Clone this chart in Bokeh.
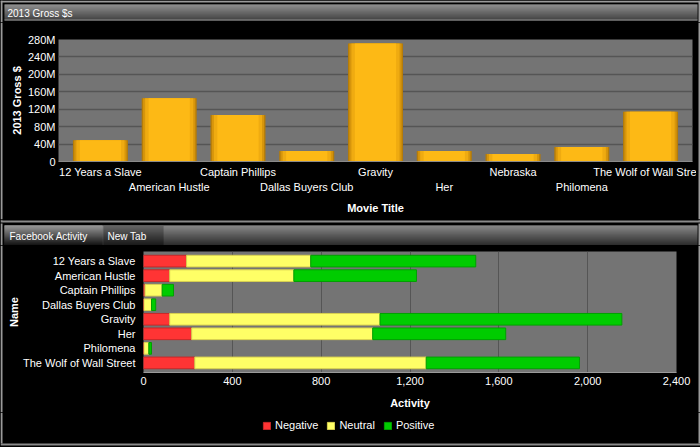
from bokeh.plotting import figure
from bokeh.models import (Range1d, FactorRange, FixedTicker, NumeralTickFormatter, LinearAxis,
                          ColumnDataSource, Legend, LegendItem)
from bokeh.core.properties import value
from bokeh.layouts import column, row
from bokeh.embed import file_html
from bokeh.resources import INLINE

# ---------------- data ----------------
movies = ["12 Years a Slave", "American Hustle", "Captain Phillips", "Dallas Buyers Club",
          "Gravity", "Her", "Nebraska", "Philomena", "The Wolf of Wall Street"]
movie_tick_labels = ["12 Years a Slave", "American Hustle", "Captain Phillips", "Dallas Buyers Club",
                     "Gravity", "Her", "Nebraska", "Philomena", "The Wolf of Wall Stre"]
gross_m = [49, 145, 107, 24, 271, 24, 17, 33, 114]          # millions of $
gross_ticks = [0, 40, 80, 120, 160, 200, 240, 280]
gross_tick_labels = ["0", "40M", "80M", "120M", "160M", "200M", "240M", "280M"]

names = ["12 Years a Slave", "American Hustle", "Captain Phillips", "Dallas Buyers Club",
         "Gravity", "Her", "Philomena", "The Wolf of Wall Street"]
negative = [194, 118, 7, 2, 118, 217, 2, 231]
neutral = [559, 559, 77, 34, 947, 815, 22, 1042]
positive = [743, 552, 51, 19, 1089, 599, 12, 690]
activity_ticks = [0, 400, 800, 1200, 1600, 2000, 2400]
series = ["Negative", "Neutral", "Positive"]
series_fill = ["#ff3434", "#ffff66", "#00cc00"]
series_line = ["#c82828", "#d8d050", "#00a000"]

FONT = "Liberation Sans"
W = 700
BORDER = "#9a9a9a"


def hexmix(c1, c2, t):
    a = [int(c1[i:i + 2], 16) for i in (1, 3, 5)]
    b = [int(c2[i:i + 2], 16) for i in (1, 3, 5)]
    return "#%02x%02x%02x" % tuple(int(round(a[k] + (b[k] - a[k]) * t)) for k in range(3))


def deco_figure(h, w=W):
    p = figure(width=w, height=h, output_backend="svg", toolbar_location=None,
               x_range=Range1d(0, w), y_range=Range1d(h, 0),
               x_axis_type=None, y_axis_type=None, frame_align=False,
               min_border=0, min_border_left=0, min_border_right=0,
               min_border_top=0, min_border_bottom=0)
    p.background_fill_color = "#000000"
    p.border_fill_color = "#000000"
    p.outline_line_color = None
    p.grid.visible = False
    return p


class Boxes:
    def __init__(self):
        self.l, self.r, self.t, self.b, self.c = [], [], [], [], []

    def add(self, l, r, t, b, c):
        self.l.append(l); self.r.append(r); self.t.append(t); self.b.append(b); self.c.append(c)

    def grad(self, l, r, t, b, c_top, c_bot):
        n = int(round(b - t))
        for i in range(n):
            self.add(l, r, t + i, t + i + 1.05, hexmix(c_top, c_bot, i / max(n - 1, 1)))

    def draw(self, p):
        src = ColumnDataSource(dict(l=self.l, r=self.r, t=self.t, b=self.b, c=self.c))
        p.quad(left="l", right="r", top="t", bottom="b", fill_color="c", line_color=None, source=src)


def side_strip(h, left_side):
    p = deco_figure(h, w=4)
    b = Boxes()
    if left_side:
        b.add(0, 2, 0, h, BORDER)
    else:
        b.add(2, 4, 0, h, BORDER)
    b.draw(p)
    return p


def deco_text(p, x, y, s):
    p.text(x=[x], y=[y], text=[s], text_font=value(FONT), text_font_size="10px",
           text_color="#ffffff", text_baseline="middle", text_align="left")


def style_axis(ax):
    ax.major_label_text_color = "#ffffff"
    ax.major_label_text_font = FONT
    ax.major_label_text_font_size = "11px"
    ax.axis_label_text_color = "#ffffff"
    ax.axis_label_text_font = FONT
    ax.axis_label_text_font_size = "11px"
    ax.axis_label_text_font_style = "bold"
    ax.major_tick_line_color = None
    ax.minor_tick_line_color = None
    ax.major_tick_out = 0
    ax.major_tick_in = 0


# ---------------- header A (y 0-22) ----------------
hA = 22
pA = deco_figure(hA)
bA = Boxes()
bA.add(0, W, 0, 2, BORDER)
bA.add(0, 2, 0, hA, BORDER)
bA.add(W - 2, W, 0, hA, BORDER)
bA.grad(4, 697, 4, 20, "#bcbcbc", "#5a5a5a")
bA.add(4, 697, 19, 20, "#8e8e8e")
bA.draw(pA)
deco_text(pA, 7, 12.5, "2013 Gross $s")

# ---------------- chart B (y 22-219) ----------------
hB = 197
xidx = list(range(len(movies)))
pB = figure(width=W - 8, height=hB, output_backend="svg", toolbar_location=None,
            x_range=Range1d(-0.61, 8.61), y_range=Range1d(0, 280), frame_align=False,
            min_border_left=54, min_border_right=4, min_border_top=17, min_border_bottom=58)
pB.background_fill_color = "#747474"
pB.border_fill_color = "#000000"
pB.outline_line_color = None
pB.xaxis.visible = False

srcB = ColumnDataSource(dict(x=xidx, gross=gross_m))
for wdt, col in [(0.80, "#b57c09"), (0.76, "#d6950c"), (0.70, "#efab11"), (0.60, "#fdb915")]:
    pB.vbar(x="x", top="gross", width=wdt, source=srcB, fill_color=col, line_color=None)

pB.xgrid.grid_line_color = None
pB.ygrid.grid_line_color = "#555555"
pB.ygrid.grid_line_width = 1.5
pB.yaxis.ticker = FixedTicker(ticks=gross_ticks)
pB.yaxis.major_label_overrides = {t: s for t, s in zip(gross_ticks, gross_tick_labels)}
pB.yaxis.axis_label = "2013 Gross $"
style_axis(pB.yaxis[0])
pB.yaxis.axis_line_color = None
pB.yaxis.major_label_standoff = 3
pB.yaxis.axis_label_standoff = 2

even = [i for i in xidx if i % 2 == 0]
odd = [i for i in xidx if i % 2 == 1]
ax1 = LinearAxis(ticker=FixedTicker(ticks=even),
                 major_label_overrides={i: movie_tick_labels[i] for i in even})
ax2 = LinearAxis(ticker=FixedTicker(ticks=odd),
                 major_label_overrides={i: movie_tick_labels[i] for i in odd},
                 axis_label="Movie Title")
for ax in (ax1, ax2):
    style_axis(ax)
ax1.axis_line_color = "#8a8a8a"
ax2.axis_line_color = None
ax1.major_label_standoff = 4
ax2.major_label_standoff = 0
ax2.axis_label_standoff = 6
pB.add_layout(ax1, "below")
pB.add_layout(ax2, "below")

# ---------------- header C (y 219-245) ----------------
hC = 26
pC = deco_figure(hC)
bC = Boxes()
bC.add(0, W, 1, 3, "#8a8a8a")
bC.add(0, 2, 0, 1, BORDER)
bC.add(W - 2, W, 0, 1, BORDER)
bC.add(0, 2, 4, hC, BORDER)
bC.add(W - 2, W, 4, hC, BORDER)
bC.grad(4, 697, 6, 26, "#b4b4b4", "#3c3c3c")
bC.grad(4, 102, 6, 26, "#9c9c9c", "#0c0c0c")
bC.grad(103, 163, 6, 26, "#5a5a5a", "#141414")
bC.draw(pC)
deco_text(pC, 9, 16.5, "Facebook Activity")
deco_text(pC, 107, 16.5, "New Tab")

# ---------------- chart D (y 245-412) ----------------
hD = 167
rev = list(reversed(names))
pD = figure(width=W - 8, height=hD, output_backend="svg", toolbar_location=None,
            y_range=FactorRange(factors=rev, range_padding=0.16, range_padding_units="absolute"),
            x_range=Range1d(0, 2400), frame_align=False,
            min_border_left=139, min_border_right=20, min_border_top=6, min_border_bottom=40)
pD.background_fill_color = "#747474"
pD.border_fill_color = "#000000"
pD.outline_line_color = None

srcD = ColumnDataSource(dict(name=names, Negative=negative, Neutral=neutral, Positive=positive))
pD.hbar_stack(series, y="name", height=0.8, source=srcD,
              fill_color=series_fill, line_color=series_line, line_width=1)

pD.ygrid.grid_line_color = None
pD.xgrid.grid_line_color = "#555555"
pD.xgrid.grid_line_width = 1
pD.xaxis.ticker = FixedTicker(ticks=activity_ticks)
pD.xaxis.formatter = NumeralTickFormatter(format="0,0")
pD.xaxis.axis_label = "Activity"
pD.yaxis.axis_label = "Name"
for ax in (pD.xaxis[0], pD.yaxis[0]):
    style_axis(ax)
pD.yaxis.axis_line_color = None
pD.xaxis.axis_line_color = "#9a9a9a"
pD.yaxis.major_label_standoff = 8
pD.yaxis.axis_label_standoff = 0
pD.xaxis.major_label_standoff = 4
pD.xaxis.axis_label_standoff = 9

# ---------------- footer E with legend (y 412-447) ----------------
hE = 35
pE = deco_figure(hE)
bE = Boxes()
bE.add(0, 2, 0, 31, BORDER)
bE.add(W - 2, W, 0, 31, BORDER)
bE.add(0, W, 31, 33, "#8a8a8a")
bE.draw(pE)
# hidden copy of the stacked series, only used to give the legend its swatches
srcE = ColumnDataSource(dict(pos=list(range(len(names))), Negative=negative,
                             Neutral=neutral, Positive=positive))
rsE = pE.hbar_stack(series, y="pos", height=0.8, source=srcE,
                    fill_color=series_fill, line_color=series_line, line_width=1,
                    visible=False)
lg = Legend(items=[LegendItem(label=s, renderers=[r]) for s, r in zip(series, rsE)],
            orientation="horizontal", location=(262, 16))
lg.background_fill_alpha = 0
lg.border_line_color = None
lg.inactive_fill_alpha = 0
lg.padding = 0
lg.margin = 0
lg.spacing = 8
lg.glyph_width = 9
lg.glyph_height = 9
lg.label_standoff = 4
lg.label_text_color = "#ffffff"
lg.label_text_font = FONT
lg.label_text_font_size = "11px"
lg.label_height = 12
pE.add_layout(lg, "center")

rowB = row(side_strip(hB, True), pB, side_strip(hB, False), spacing=0)
rowD = row(side_strip(hD, True), pD, side_strip(hD, False), spacing=0)
layout = column(pA, rowB, pC, rowD, pE, spacing=0, styles={"background-color": "#000000"})
open("out.html", "w").write(file_html(layout, INLINE))
